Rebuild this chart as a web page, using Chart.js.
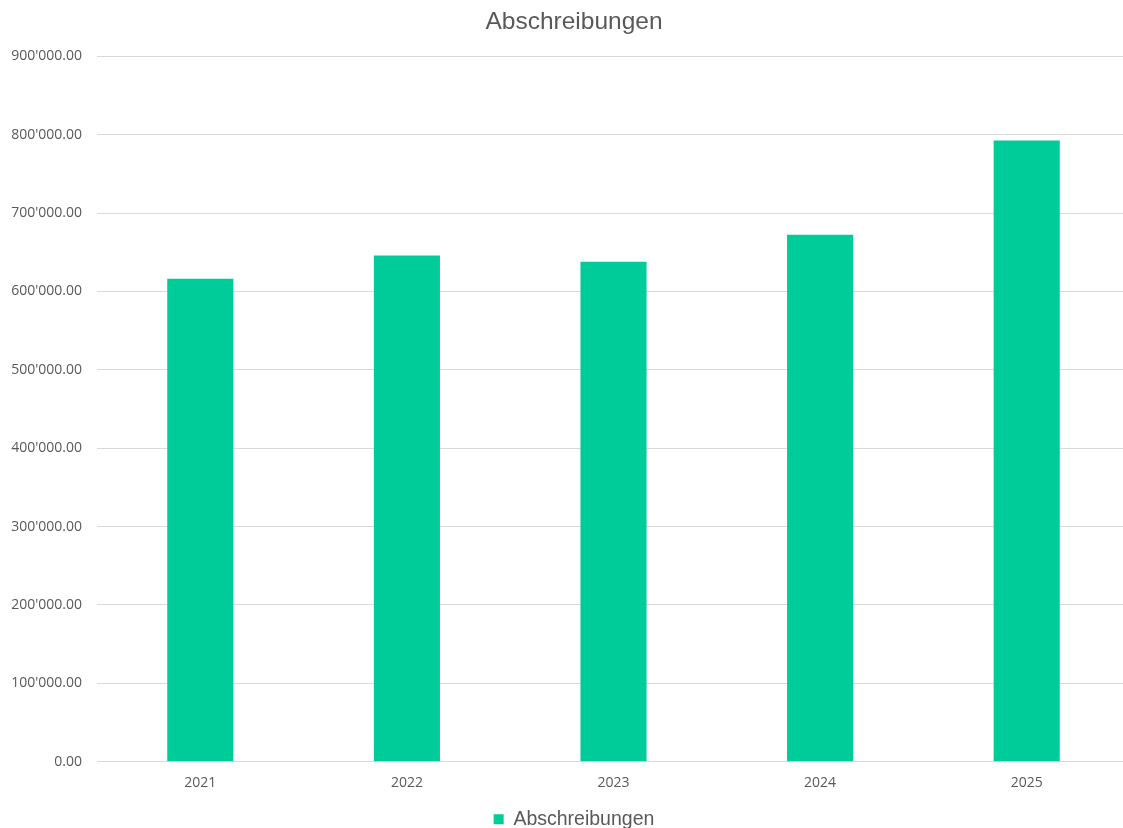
<!DOCTYPE html>
<html><head><meta charset="utf-8">
<script src="https://cdn.jsdelivr.net/npm/chart.js@4"></script>
<style>html,body{margin:0;padding:0;background:#fff;overflow:hidden}canvas{display:block}</style>
</head><body><canvas id="c" width="1148" height="828"></canvas>
<script>
const categories = ['2021','2022','2023','2024','2025'];
const values = [616200, 646000, 637900, 672400, 792800];
const seriesName = 'Abschreibungen';
const chartTitle = 'Abschreibungen';

function fmt(v){
  const s = Math.round(v).toString().replace(/\B(?=(\d{3})+(?!\d))/g, "'");
  return s + '.00';
}

const centerShift = {
  id: 'centerShift',
  afterLayout(chart) {
    if (chart.titleBlock) chart.titleBlock.left += 18;
    if (chart.legend) chart.legend.left += 18;
  }
};

new Chart(document.getElementById('c'), {
  type: 'bar',
  data: { labels: categories, datasets: [{ label: seriesName, data: values, backgroundColor: '#00CC99', borderWidth: 0, categoryPercentage: 1, barPercentage: 0.32 }] },
  plugins: [centerShift],
  options: {
    responsive: false, animation: false, devicePixelRatio: 1,
    layout: { padding: { left: 0, right: 18, top: 0, bottom: -11 } },
    plugins: {
      title: { display: true, text: chartTitle, color: '#595959', font: { family: 'Liberation Sans', size: 24.5, weight: 'normal' }, padding: { top: 8, bottom: 19 } },
      legend: { position: 'bottom', labels: { color: '#595959', font: { family: 'Liberation Sans', size: 19.5 }, boxWidth: 10, boxHeight: 10, padding: 2 } },
      tooltip: { enabled: false }
    },
    scales: {
      x: { grid: { display: false, drawTicks: false }, border: { color: '#d9d9d9' }, afterFit: s => { s.height += 3; },
           ticks: { color: '#595959', font: { family: 'Open Sans', size: 14 }, padding: 13 } },
      y: { min: 0, max: 900000, afterFit: s => { s.width = 97; },
           grid: { color: '#d9d9d9', drawTicks: false }, border: { display: false },
           ticks: { stepSize: 100000, color: '#595959', font: { family: 'Open Sans', size: 14 }, padding: 15, callback: v => fmt(v) } }
    }
  }
});
</script></body></html>
